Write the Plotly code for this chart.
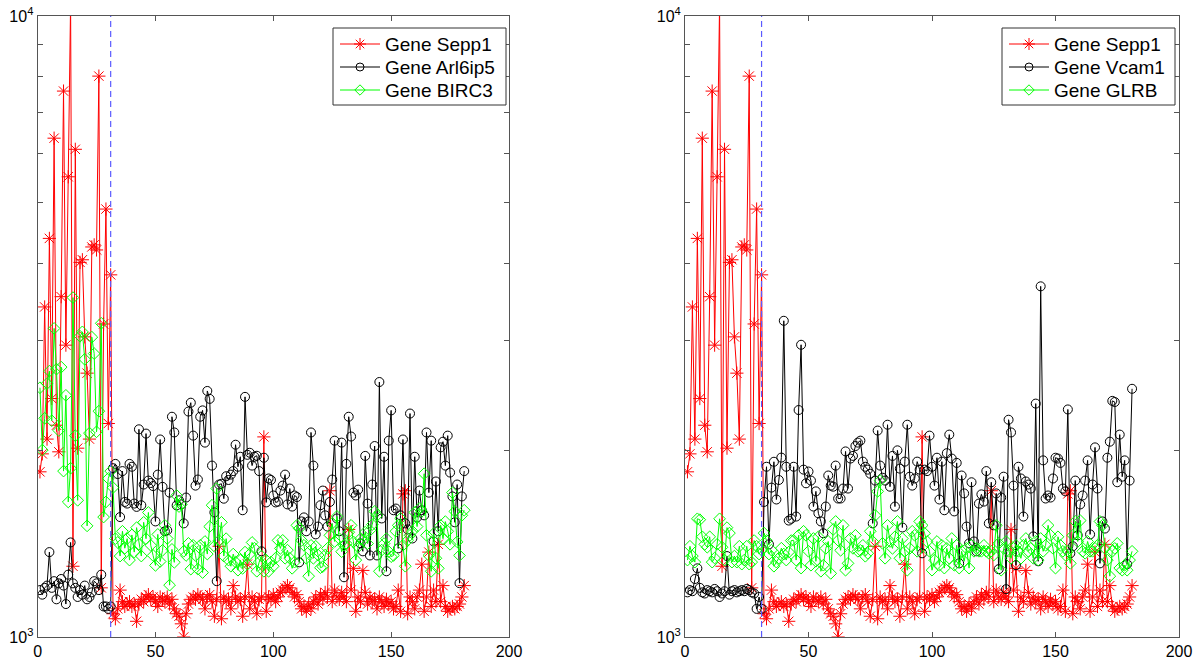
import plotly.graph_objects as go

# ---------------- data ----------------
sample_index = list(range(1, 182))
split_sample = 31

sepp1 = [1845, 1972, 3400, 2083, 4384, 2421, 6357, 2193, 1987, 3532,
         7570, 2951, 5509, 10500, 1300, 6100, 2014, 4011, 4050, 3043,
         2660, 2083, 4247, 4280, 4200, 8002, 1200, 3192, 4888, 2207,
         3830,
         1090, 1070, 1110, 1190, 1140, 1120, 1130, 1140, 1120, 1130,
         1060, 1130, 1150, 1140, 1160, 1170, 1150, 1160, 1140, 1120,
         1160, 1150, 1140, 1160, 1130, 1150, 1110, 1090, 1080, 1050,
         1000, 1090, 1130, 1150, 1160, 1150, 1170, 1160, 1150, 1110,
         1160, 1170, 1140, 1080, 1150, 1400, 1070, 1160, 1140, 1150,
         1110, 1210, 1160, 1140, 1150, 1080, 1160, 1310, 1110, 1160,
         1140, 1090, 1150, 1160, 2100, 1100, 1160, 1150, 1170, 1140,
         1160, 1180, 1190, 1200, 1210, 1200, 1180, 1160, 1170, 1140,
         1110, 1120, 1100, 1130, 1110, 1140, 1160, 1130, 1170, 1150,
         1180, 1160, 1720, 1140, 1190, 1160, 1150, 1180, 1160, 1140,
         1490, 1190, 1290, 1100, 1160, 1140, 1280, 1180, 1130, 1160,
         1140, 1150, 1110, 1160, 1140, 1120, 1150, 1130, 1140, 1110,
         1120, 1190, 1100, 1700, 1720, 1090, 1160, 1140, 1110, 1160,
         1190, 1310, 1100, 1160, 1370, 1120, 1190, 1140, 1410, 1140,
         1210, 1120, 1100, 1110, 1120, 1110, 1120, 1130, 1160, 1210]

arl6ip5 = [1190, 1170, 1200, 1210, 1370, 1200, 1230, 1150, 1220, 1240,
           1210, 1130, 1260, 1420, 1220, 1200, 1160, 1190, 1170, 1210,
           1150, 1160, 1180, 1230, 1220, 1190, 1260, 1120, 1120, 1110,
           1120,
           1870, 1900, 1830, 1560, 1850, 1650, 1640, 1900, 1880, 1640,
           1620, 2160, 1630, 1760,
           2126, 1786, 1770, 1750, 1535, 1826, 2080, 1745, 1480, 1485,
           1708, 2263, 2135, 1629, 1660, 1635, 1524, 1677, 2307, 2384,
           2110, 1753, 1793, 2263, 2317, 2056, 2490, 2418, 1888, 1587,
           1230, 1760, 1765, 1670, 1815, 1790, 1826, 1850, 2040, 1880,
           1951, 1600, 2436, 1965, 1980, 1888, 1951, 1958, 1850, 1374,
           1944, 1647, 1800, 1790, 1690, 1647,
           1652, 1721, 1753, 1826, 1635, 1734, 1622, 1690, 1680, 1319,
           1535, 1558, 1480, 1535, 2135, 1888, 1463, 1506, 1630, 1721,
           1570, 1506, 1650, 1793, 2071, 1552, 1480, 2056, 1248, 1900,
           2263, 2103, 1708, 1690, 1727, 1415, 1374, 1957, 1640, 1353,
           1760, 2030, 1353, 2574, 1552, 1951, 1276, 2071,
           2317, 1600, 1610, 1389, 1570, 2080, 1524, 1490, 2290, 1441,
           1951, 1558, 1721, 1600, 1570, 2135, 1708, 2071, 1425, 1780,
           1480, 2020, 2063, 1888, 2110, 1840, 1684, 1530, 1760, 1221,
           1684, 1850]

birc3 = [2520, 2000, 2250, 2560, 2680, 2230, 3140, 2700, 2150, 2720,
         1850, 2450, 1650, 1870, 3520, 2110, 1660, 3050, 3100, 2800,
         1510, 2130, 3040, 2860, 2140, 2310, 3200, 1560, 1650, 1800,
         1850,
         1740, 1440, 1420, 1350, 1480, 1390, 1440, 1330, 1460, 1370,
         1500, 1410, 1350, 1530, 1440,
         1587, 1405, 1353, 1304, 1463, 1323, 1379, 1513, 1441, 1212,
         1384, 1319, 1690, 1622, 1635, 1374, 1353, 1415, 1286, 1405,
         1353, 1286, 1405, 1270, 1425, 1360, 1506, 1630, 1400, 1734,
         1430, 1530, 1350, 1440, 1330, 1300, 1360, 1320, 1281, 1330,
         1290, 1370, 1310, 1360, 1420, 1390, 1276, 1320, 1350, 1276,
         1330, 1276, 1320, 1300, 1340,
         1431, 1389, 1431, 1339, 1380, 1339, 1290, 1320, 1513, 1495,
         1431, 1405, 1339, 1253, 1405, 1339, 1400, 1355, 1293, 1298,
         1355, 1389, 1458, 1524, 1425, 1564, 1440, 1372, 1405, 1414,
         1475, 1513, 1423, 1330, 1397, 1440, 1431, 1475, 1414, 1485,
         1517, 1593, 1570, 1276, 1380, 1414, 1440, 1372,
         1347, 1353, 1480, 1513, 1552, 1405, 1300, 1431, 1458, 1480,
         1587, 1506, 1610, 1593, 1832, 1458, 1353, 1276, 1467, 1339,
         1290, 1513, 1440, 1534, 1480, 1410, 1708, 1593, 1423, 1353,
         1570, 1600]

vcam1 = [1180, 1190, 1185, 1240, 1290, 1200, 1180, 1175, 1190, 1185,
         1180, 1195, 1185, 1160, 1175, 1185, 1350, 1170, 1185, 1190,
         1180, 1185, 1190, 1185, 1195, 1190, 1180, 1175, 1110, 1160,
         1110,
         1650, 1880, 1410, 1740, 1915, 1665, 1790, 1945, 3230, 1880,
         1540, 1550,
         1880, 1563, 2320, 2955, 1860, 1768, 1847, 1786, 1622, 1716,
         1582, 1535, 1469, 1622, 1820, 1753, 1746, 1888, 1671, 1671,
         1734, 1990, 1734, 1938, 1957, 2030, 2056, 2071, 1916, 1880,
         1860, 1832, 1524, 1786, 2150, 1888, 1805, 1786, 2197, 1746,
         1957, 1622, 1998, 1867, 1501, 1916, 2197, 1812, 1753, 1800,
         1916, 1860, 1364, 1860,
         1850, 2110, 1880, 1753, 1944, 1665, 1916, 1600, 1977, 2118,
         1938, 1593, 1907, 1314, 1820, 1703, 1506, 1415, 1775, 1425,
         1374, 1640, 1697, 1652, 1850, 1524, 1775, 1513, 1703, 1286,
         1677, 1812, 1194, 2238, 2135, 1753, 1305, 1880, 1800, 1563,
         1780, 1760, 1734, 1452, 2376, 1324, 3670, 1925, 1671, 1690,
         1677, 1800, 1944, 1938, 1907, 1734, 1716, 2325, 1364, 1400,
         1786, 1458, 1635, 1690, 1786, 1925, 1463, 1760, 2020, 1734,
         1314, 1535, 1495, 1944, 2063, 2400, 2390, 1775, 2118, 1812,
         1925, 1310, 1786, 2510]

glrb = [1330, 1400, 1350, 1320, 1550, 1545, 1450, 1410, 1395, 1450,
        1320, 1340, 1410, 1550, 1395, 1330, 1500, 1470, 1320, 1350,
        1320, 1400, 1310, 1330, 1400, 1310, 1320, 1430, 1400, 1360,
        1380,
        1470, 1430, 1360, 1380, 1300, 1320, 1340, 1390, 1360, 1330,
        1370, 1430,
        1431, 1330, 1458, 1291, 1480, 1458, 1374, 1305, 1441, 1324,
        1450, 1276, 1305, 1389, 1425, 1266, 1490, 1535, 1431, 1379,
        1513, 1281, 1314, 1441, 1389, 1458, 1374, 1379, 1405, 1349,
        1364, 1480, 1425, 1570, 1716, 1786, 1415, 1339, 1513, 1425,
        1389, 1450, 1535, 1339, 1441, 1374, 1281, 1389, 1480, 1458,
        1374, 1535, 1513, 1469, 1425, 1374,
        1281, 1330, 1425, 1305, 1405, 1291, 1389, 1339, 1441, 1305,
        1405, 1291, 1374, 1324, 1389, 1291, 1405, 1374, 1389, 1374,
        1374, 1405, 1374, 1364, 1374, 1355, 1513, 1415, 1281, 1389,
        1425, 1374, 1339, 1389, 1405, 1374, 1339, 1405, 1441, 1374,
        1389, 1339, 1425, 1330, 1441, 1374, 1405,
        1513, 1458, 1389, 1291, 1450, 1405, 1374, 1355, 1374, 1314,
        1458, 1535, 1425, 1540, 1374, 1364, 1425, 1374, 1374, 1389,
        1405, 1535, 1513, 1389, 1330, 1253, 1374, 1389, 1415, 1291,
        1281, 1305, 1281, 1330, 1374]

x_tick_vals = [0, 50, 100, 150, 200]
y_tick_vals = [1000, 2000, 3000, 4000, 5000, 6000, 7000, 8000, 9000, 10000]
y_tick_text = ["10<sup>3</sup>", "", "", "", "", "", "", "", "", "10<sup>4</sup>"]

panels = [
    {"genes": [("Gene Sepp1", sepp1), ("Gene Arl6ip5", arl6ip5), ("Gene BIRC3", birc3)],
     "xa": "x", "ya": "y", "lx": "x3", "ly": "y3",
     "dom": [37.6, 509], "legend_px": [333, 506]},
    {"genes": [("Gene Sepp1", sepp1), ("Gene Vcam1", vcam1), ("Gene GLRB", glrb)],
     "xa": "x2", "ya": "y2", "lx": "x4", "ly": "y4",
     "dom": [685, 1179], "legend_px": [1002, 1175]},
]

# ---------------- styles ----------------
W, H = 1200, 662
FONT = "Liberation Sans, Arial, Helvetica, sans-serif"
PLOT_TOP, PLOT_BOTTOM = 16, 637
LEG_TOP, LEG_BOTTOM = 28, 105
LEG_ROWS = [16, 39, 62]          # row centres measured from the legend top (px)
series_styles = [
    dict(color="#ff0000", symbol="asterisk-open", size=11),
    dict(color="#000000", symbol="circle-open", size=9),
    dict(color="#00ff00", symbol="diamond-open", size=9),
]

fig = go.Figure()
annotations = []
layout_axes = {}

axis_common = dict(showline=True, linecolor="#555555", linewidth=1, mirror="allticks",
                   ticks="inside", ticklen=5, tickcolor="#555555", showgrid=False,
                   zeroline=False, automargin=False,
                   tickfont=dict(family=FONT, size=16, color="#000000"))
y_dom = [1 - PLOT_BOTTOM / H, 1 - PLOT_TOP / H]

for p in panels:
    # data traces
    for (name, vals), st in zip(p["genes"], series_styles):
        fig.add_trace(go.Scatter(
            x=sample_index, y=vals, name=name, mode="lines+markers",
            line=dict(color=st["color"], width=1),
            marker=dict(symbol=st["symbol"], size=st["size"],
                        color=st["color"], line=dict(color=st["color"], width=1)),
            xaxis=p["xa"], yaxis=p["ya"], showlegend=False, hoverinfo="skip",
        ))
    fig.add_trace(go.Scatter(
        x=[split_sample, split_sample], y=[y_tick_vals[0], y_tick_vals[-1]],
        mode="lines", line=dict(color="#5a5aff", width=1.2, dash="6px,4px"),
        showlegend=False, xaxis=p["xa"], yaxis=p["ya"], hoverinfo="skip",
    ))

    xa_key = "xaxis" if p["xa"] == "x" else "xaxis" + p["xa"][1:]
    ya_key = "yaxis" if p["ya"] == "y" else "yaxis" + p["ya"][1:]
    layout_axes[xa_key] = dict(axis_common, range=[0, 200], tickvals=x_tick_vals,
                               ticktext=[str(v) for v in x_tick_vals],
                               domain=[p["dom"][0] / W, p["dom"][1] / W], anchor=p["ya"])
    layout_axes[ya_key] = dict(axis_common, type="log", range=[3, 4], tickvals=y_tick_vals,
                               ticktext=y_tick_text, domain=y_dom, anchor=p["xa"])

    # legend drawn in its own small pixel-scaled subplot (on top of the data)
    lx0, lx1 = p["legend_px"]
    lw, lh = lx1 - lx0, LEG_BOTTOM - LEG_TOP
    lxk = "xaxis" + p["lx"][1:]
    lyk = "yaxis" + p["ly"][1:]
    layout_axes[lxk] = dict(visible=False, range=[-1, lw + 1], fixedrange=True,
                            domain=[(lx0 - 1) / W, (lx1 + 1) / W], anchor=p["ly"])
    layout_axes[lyk] = dict(visible=False, range=[-1, lh + 1], fixedrange=True,
                            domain=[1 - (LEG_BOTTOM + 1) / H, 1 - (LEG_TOP - 1) / H],
                            anchor=p["lx"])
    fig.add_trace(go.Scatter(
        x=[0, lw, lw, 0, 0], y=[0, 0, lh, lh, 0], mode="lines", fill="toself",
        fillcolor="#ffffff", line=dict(color="#333333", width=1),
        xaxis=p["lx"], yaxis=p["ly"], showlegend=False, hoverinfo="skip",
    ))
    for (name, _), st, row in zip(p["genes"], series_styles, LEG_ROWS):
        yy = lh - row
        fig.add_trace(go.Scatter(
            x=[7, 47], y=[yy, yy], mode="lines", line=dict(color=st["color"], width=1),
            xaxis=p["lx"], yaxis=p["ly"], showlegend=False, hoverinfo="skip",
        ))
        fig.add_trace(go.Scatter(
            x=[27], y=[yy], mode="markers",
            marker=dict(symbol=st["symbol"], size=st["size"] - 1, color=st["color"],
                        line=dict(color=st["color"], width=1)),
            xaxis=p["lx"], yaxis=p["ly"], showlegend=False, hoverinfo="skip",
        ))
        annotations.append(dict(
            text=name, x=50, y=yy, xref=p["lx"], yref=p["ly"], xanchor="left",
            yanchor="middle", showarrow=False,
            font=dict(family=FONT, size=19, color="#000000"),
        ))

fig.update_layout(
    template="none",
    width=W, height=H,
    margin=dict(l=0, r=0, t=0, b=0),
    paper_bgcolor="#ffffff", plot_bgcolor="rgba(0,0,0,0)",
    font=dict(family=FONT, size=16, color="#000000"),
    showlegend=False,
    annotations=annotations,
    **layout_axes,
)

fig.write_html("out.html", config={"displayModeBar": False},
               post_script="document.body.style.margin='0';document.body.style.overflow='hidden';")
